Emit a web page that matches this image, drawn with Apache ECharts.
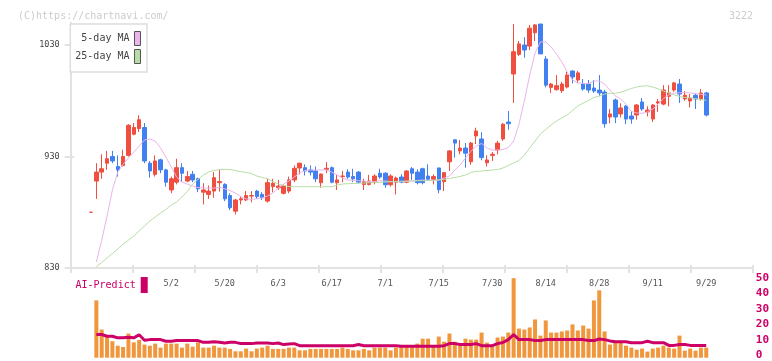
<!DOCTYPE html>
<html><head><meta charset="utf-8">
<script src="https://cdn.jsdelivr.net/npm/echarts@6/dist/echarts.min.js"></script>
<style>html,body{margin:0;padding:0;background:#fff}#c{width:772px;height:361px}</style>
</head><body><div id="c"></div>
<script>
const dates = [
'4/10','4/11','4/14','4/15','4/16','4/17','4/18','4/21','4/22','4/23',
'4/24','4/25','4/28','4/30','5/1','5/2','5/7','5/8','5/9','5/12',
'5/13','5/14','5/15','5/16','5/19','5/20','5/21','5/22','5/23','5/26',
'5/27','5/28','5/29','5/30','6/2','6/3','6/4','6/5','6/6','6/9',
'6/10','6/11','6/12','6/13','6/16','6/17','6/18','6/19','6/20','6/23',
'6/24','6/25','6/26','6/27','6/30','7/1','7/2','7/3','7/4','7/7',
'7/8','7/9','7/10','7/11','7/14','7/15','7/16','7/17','7/18','7/22',
'7/23','7/24','7/25','7/28','7/29','7/30','7/31','8/1','8/4','8/5',
'8/6','8/7','8/8','8/12','8/13','8/14','8/15','8/18','8/19','8/20',
'8/21','8/22','8/25','8/26','8/27','8/28','8/29','9/1','9/2','9/3',
'9/4','9/5','9/8','9/9','9/10','9/11','9/12','9/16','9/17','9/18',
'9/19','9/22','9/24','9/25','9/26','9/29'];

const opens = [
880,908,916,924,930,921,922,931,950,955,
956,924,914,927,918,900,907,920,908,914,
910,898,896,899,906.5,905,895,881,891,891,
894.5,899,896,890,903,902,897,899,909,919.7,
920,918,917,906.5,918.5,920,906.5,912,916,912,
916,905,905,907,915,915,904.7,907,911.6,907,
919,916,919,912.5,909.6,919.7,907.4,925.3,945,935,
937.6,925.3,948.4,945.7,924.4,931,935.8,945.7,960.9,1004,
1021.6,1030,1029,1041,1048.8,1017.4,992,990,989,992.3,
1006.7,998.6,995,995,991.4,989.6,987.8,965.4,980.7,968.2,
975.3,966.3,967.2,978.9,970,963.6,978,977,984,989.6,
995,981.6,979.8,985,981.6,987];
const closes = [
880,916,919,928,926,918,930,958,956,963,
926,917,926,918,907,910,920,915,912,909,
901,900,899,911,907.5,892,884,891,892,895,
895,894,893,906.5,906,903.5,903.5,909,919.4,924,
917,916,910,914.3,919.4,907,909,912.5,911.6,910,
907,907.5,908,912.5,911.6,904.7,912.5,910.7,907,917,
915,906.5,906.5,909.6,912,900.2,915.5,935,942,937.6,
933,942,952.9,929,926.9,932,942,959,959.4,1024,
1031,1025.5,1045,1048,1022,994,995,993.5,995,1003,
1001.3,1005,990.5,989.6,988.7,987,959.4,968.2,965.4,973.5,
963.6,963.6,976.2,972.6,971.7,976.2,979,989.6,987,996,
986,985,982.5,981.6,987,967.2];
const lows = [
880,892,910,918,924,912,921,930,949,952,
924,911,912,915,903,897,905,907,907,907,
898,887,892,893,898.5,890,882,878,887,890,
889,892,891,888.6,898,900,896,897,907,914,
913,913,907,902,915,906,900,907,910,907,
906,900,904,905,910,902,903,896,906,906,
909,905,905,908,905,897,899,917,929,932,
920,922.6,941.2,926.6,921,926,932,944,954,978,
1020,1018.6,1025.5,1033.6,1022,992,987,989,987,991,
995.6,996,989,987,987,984.5,955.8,959.8,960,965,
959,959.4,963,971,966,961,970,976,975,988,
978,980,974,972.6,980,966];
const highs = [
880,924,932,935,935,931,936,959,960,967,
960,926,931,928,919,912,928,924,917,917,
911,906,904,916,918,906,897,892,894,899,
899,900,898,910,910,909,905,912,922,924.5,
923,922,921,914.5,925,921,913.5,917,918.5,919,
917,910,913.5,914,919,916,914,912,914,917.5,
920.5,918.5,920,923,914,920,916,935.8,945,944.8,
942,943,955.8,951.7,931,934,944,960,970.8,1048.8,
1033.6,1037,1048,1048.8,1048.8,1020,996,1003,997,1006,
1007,1006.7,999.5,998.6,998.6,1003,989.6,972.6,982,977.7,
976,970.8,977,982.5,975,977,981.6,994,994,997,
999.5,988.7,986,986,990.5,988];
const ma5 = [
null,835.4,854.7,876.6,900,916,923,928.6,934,939.4,
944.8,945.7,943.9,937.6,929.6,920.6,911.6,907,905.3,903.5,
902.2,901.7,901.7,901.7,902.4,901,899.3,897.3,894,891.9,
891.6,892,892.8,894.6,897.3,901.7,905.3,908,911.6,915.2,
917.4,917.9,917.9,917.9,917.9,916,913.4,910.7,908.9,908.5,
908.3,908,907.6,907.4,908.3,908,907.4,907.4,907.4,907.6,
908,908.5,908.9,908.5,908.5,908.9,910.7,912.5,917.9,922.4,
928.7,934.5,939.4,941.7,937.6,935.8,935.8,936.3,938,943.9,
959.1,979.8,1003,1022.8,1032.7,1032.7,1028.2,1021.9,1014.8,1005.8,
998.6,995.9,995.6,995.4,997.7,997.7,995,989.6,984.3,981.6,
977,970.4,969,968.7,969.9,972.6,976.7,982,985.2,987,
987.2,987.2,987,986.5,985.8,985.2];
const ma25 = [
null,831.2,835,839,843,847,851.5,855,858.7,863.2,
867.7,872.2,875.7,879.3,882.5,886.5,889.2,893.7,898.6,905.3,
909.4,913.4,916.1,917.4,918.3,918.5,918.3,917.4,916.4,915.6,
914.8,912.5,911.2,910.1,907.6,905.3,904,903,902.9,902.9,
902.9,902.9,902.9,902.9,902.9,902.9,904.4,905.3,905.6,905.8,
906,906.2,906.4,906.5,906.7,907.1,907.4,907.6,907.8,908,
908,908.2,908.3,908.5,908.7,908.9,909.4,910.3,911.2,912.1,
913.4,915.7,916.6,917,917.4,917.9,918.3,919.7,921.9,924.2,
926.4,931.3,937.6,943.9,950.2,954.3,958.3,961.9,964.5,967.2,
971.3,975.3,978,980.2,982.9,984.1,986,986.7,986.7,987.7,
989.2,991,992.3,993.2,993.5,992.3,990.7,988.7,987,985.2,
983.9,982.9,982.5,981.9,981.2,980.3];
const volume = [
null,35.8,17.6,13,10.3,7.5,6.7,15.1,9.6,11.1,
8.2,7.5,8.8,6.3,8.8,8.8,8.8,6.3,8.8,6.9,
9.6,6.3,6.3,7.5,6.3,6.3,5.5,4,4,5.7,
4,5.7,6.3,7.5,5.5,5.5,5.5,6.3,6.3,4.6,
4.6,5.5,5.5,5.5,5.5,5.5,5.5,6.3,5.5,4.6,
4.6,5.5,4.6,6.3,6.3,6.3,4.6,6.3,6.7,6.7,
6.7,8.8,11.9,11.9,6.7,13.2,10,15.1,10,7.5,
11.9,11.3,11.3,15.7,9.4,7.5,12.6,13.2,15.7,49.7,
18.2,17.6,18.9,23.9,13.8,23.3,15.7,15.7,16.4,17,
20.8,17,20.1,18.2,35.8,42.1,16.4,8.2,10,10,
7.5,6.3,5,5.7,3.8,5.7,6.3,7.5,6.3,5.7,
13.8,4.4,5.7,4.4,6.3,6.3];
const aiPredict = [
null,14.5,14.5,13.4,13.4,12.4,12.4,12.8,12.4,14.3,
10.9,11.3,11.3,11.3,10.3,10.3,10.7,10.7,10.7,10.7,
10.7,9.6,9.6,10,9.6,9.2,9.6,9.6,8.8,8.8,
8.8,9.2,9.2,9.2,8.8,9.2,8.2,8.5,8.8,7.5,
7.5,7.5,7.5,7.5,7.5,7.5,7.5,7.5,7.5,7.5,
8.2,7.5,7.5,7.5,7.5,7.5,7.5,7.5,7.2,7.2,
7.2,7.2,7.2,7.2,7.2,7.2,7.5,8.8,8.8,8.2,
8.2,8.2,8.8,7.5,7.5,7.5,8.8,9.5,11.3,14.5,
11.3,11.3,11.3,10.7,10.7,11.3,11.3,11.3,11.3,11.3,
11.3,11.3,11.3,10.7,10.7,11.7,11.3,10.5,10,10,
10,9.4,9.4,9.4,10.3,9.4,9.4,9.4,7.7,7.7,
8.2,8.2,7.7,7.7,7.7,7.7];
const priceTicks = [830, 930, 1030];
const volTicks = [0, 10, 20, 30, 40, 50];

const UP = '#f04e3e', DOWN = '#4080f0';
const MONO = '"DejaVu Sans Mono", "Liberation Mono", monospace';
const AXC = '#e2e2e2';
const candles = opens.map((o, i) => [o, closes[i], lows[i], highs[i]]);

const mainTop = 22.7, mainBottom = 93;
const frameL = 70.7, frameR = 19.3;
const step = 5.35;
const candL = 91 - step / 2;
const candR = 772 - (91 + step * (dates.length - 0.5));
const volTop = 277.7, volBottom = 3.3;

const chart = echarts.init(document.getElementById('c'), null, {renderer: 'canvas'});
chart.setOption({
  animation: false,
  backgroundColor: '#fff',
  title: [
    {text: '(C)https://chartnavi.com/', left: 13, top: 6, textStyle: {color: '#cccccc', fontSize: 10, fontWeight: 'normal', fontFamily: MONO}},
    {text: '3222', right: 14, top: 6, textStyle: {color: '#cccccc', fontSize: 10, fontWeight: 'normal', fontFamily: MONO}}
  ],
  legend: [
    {data: ['5-day MA', '25-day MA'], orient: 'vertical', align: 'right', left: 70.3, top: 24,
     padding: [7, 6, 8, 5], itemGap: 3, itemWidth: 6, itemHeight: 14, icon: 'rect',
     borderColor: '#dddddd', borderWidth: 1.5, backgroundColor: '#fff',
     itemStyle: {borderColor: '#555', borderWidth: 1},
     textStyle: {color: '#444', fontSize: 10, fontFamily: MONO}, selectedMode: false},
    {data: ['AI-Predict'], orient: 'horizontal', align: 'right', left: 75.5, top: 277,
     padding: 0, itemWidth: 7, itemHeight: 16, icon: 'rect',
     textStyle: {color: '#cc0066', fontSize: 10, fontFamily: MONO}, selectedMode: false}
  ],
  grid: [
    {left: frameL, right: frameR, top: mainTop, bottom: mainBottom},
    {left: candL, right: candR, top: mainTop, bottom: mainBottom},
    {left: candL, right: candR, top: volTop, bottom: volBottom},
    {left: frameL, right: frameR, top: volTop, bottom: volBottom}
  ],
  xAxis: [
    {gridIndex: 0, type: 'value', min: 0, max: 11, interval: 1, position: 'bottom',
     axisLine: {show: true, lineStyle: {color: AXC, width: 2}},
     axisTick: {show: true, length: 5, lineStyle: {color: AXC, width: 2}},
     axisLabel: {show: false}, splitLine: {show: false}},
    {gridIndex: 0, type: 'value', min: 0, max: 11, interval: 1, position: 'bottom',
     axisLine: {show: false},
     axisTick: {show: true, inside: true, length: 3, lineStyle: {color: AXC, width: 2}},
     axisLabel: {show: false}, splitLine: {show: false}},
    {gridIndex: 1, type: 'category', data: dates, boundaryGap: true,
     axisLine: {show: false}, axisTick: {show: false}, splitLine: {show: false},
     axisLabel: {interval: (i) => i >= 15 && (i - 15) % 10 === 0, margin: 11,
       color: '#555', fontSize: 8.5, fontFamily: MONO}},
    {gridIndex: 2, type: 'category', data: dates, boundaryGap: true, show: false},
    {gridIndex: 3, type: 'value', min: 0, max: 1, show: false}
  ],
  yAxis: [
    {gridIndex: 0, type: 'value', min: 830, max: 1050, position: 'left',
     axisLine: {show: true, lineStyle: {color: AXC, width: 2}},
     axisTick: {show: true, length: 6, customValues: priceTicks, lineStyle: {color: AXC, width: 2}},
     axisLabel: {customValues: priceTicks, formatter: (v) => String(v), margin: 11, color: '#444', fontSize: 8.5, fontFamily: MONO},
     splitLine: {show: false}},
    {gridIndex: 0, type: 'value', min: 830, max: 1050, position: 'left',
     axisLine: {show: false},
     axisTick: {show: true, inside: true, length: 3.5, customValues: priceTicks, lineStyle: {color: AXC, width: 2}},
     axisLabel: {show: false}, splitLine: {show: false}},
    {gridIndex: 1, type: 'value', min: 830, max: 1050, show: false, splitLine: {show: false}},
    {gridIndex: 2, type: 'value', min: 0, max: 50, show: false, splitLine: {show: false}},
    {gridIndex: 3, type: 'value', min: 0, max: 50, position: 'right',
     axisLine: {show: false}, axisTick: {show: false}, splitLine: {show: false},
     axisLabel: {customValues: volTicks, formatter: (v) => String(v), margin: 4, color: '#cc0066', fontSize: 11, fontWeight: 'bold', fontFamily: MONO}}
  ],
  series: [
    {name: 'price', type: 'candlestick', xAxisIndex: 2, yAxisIndex: 2, data: candles,
     barWidth: 4,
     itemStyle: {color: UP, color0: DOWN, borderColor: UP, borderColor0: DOWN, borderWidth: 1}},
    {name: '5-day MA', type: 'line', xAxisIndex: 2, yAxisIndex: 2, data: ma5, showSymbol: false, symbol: 'none',
     itemStyle: {color: '#e9b5ea'}, lineStyle: {color: '#e9b5ea', width: 1}},
    {name: '25-day MA', type: 'line', xAxisIndex: 2, yAxisIndex: 2, data: ma25, showSymbol: false, symbol: 'none',
     itemStyle: {color: '#b8dca6'}, lineStyle: {color: '#b8dca6', width: 1}},
    {name: 'volume', type: 'bar', xAxisIndex: 3, yAxisIndex: 3, data: volume, barWidth: 4,
     itemStyle: {color: '#f0963c'}},
    {name: 'AI-Predict', type: 'line', xAxisIndex: 3, yAxisIndex: 3, data: aiPredict, showSymbol: false, symbol: 'none',
     itemStyle: {color: '#cc0066'}, lineStyle: {color: '#cc0066', width: 3}}
  ]
});
</script></body></html>
